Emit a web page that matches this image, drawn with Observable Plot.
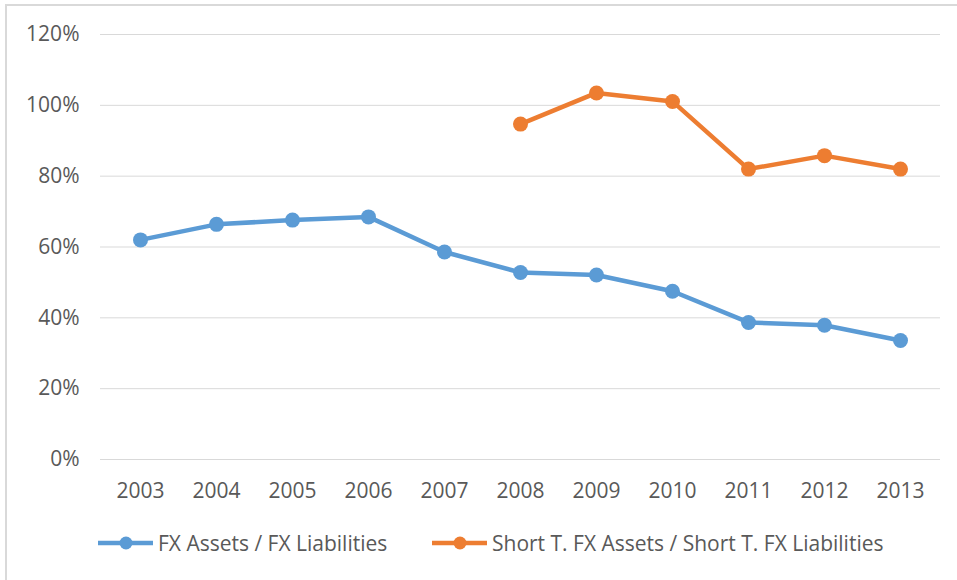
<!DOCTYPE html>
<html>
<head>
<meta charset="utf-8">
<script src="https://cdn.jsdelivr.net/npm/d3@7"></script>
<script src="https://cdn.jsdelivr.net/npm/@observablehq/plot@0.6"></script>
<style>
  html, body { margin: 0; padding: 0; background: #fff; }
  body { font-family: "Open Sans", sans-serif; width: 957px; height: 580px; overflow: hidden; position: relative; }
  #frame { position: absolute; left: 5px; top: 4px; width: 1200px; height: 1200px;
           border-left: 2px solid #d9d9d9; border-top: 2px solid #d9d9d9; pointer-events: none; }
  #chart { position: absolute; left: 0; top: 0; }
  #legend { position: absolute; left: 0; top: 515px; width: 957px; height: 56px; }
  .item { position: absolute; top: 0; height: 56px; display: flex; align-items: center;
          font-size: 21px; color: #595959; white-space: nowrap; }
  .item svg { margin-right: 5px; }
</style>
</head>
<body>
<div id="frame"></div>
<div id="chart"></div>
<div id="legend"></div>
<script>
const years = ["2003","2004","2005","2006","2007","2008","2009","2010","2011","2012","2013"];
const fxRatio = [62.0, 66.4, 67.6, 68.5, 58.6, 52.8, 52.1, 47.5, 38.7, 37.9, 33.6];
const shortYears = ["2008","2009","2010","2011","2012","2013"];
const shortRatio = [94.7, 103.5, 101.1, 82.0, 85.8, 82.0];
const seriesNames = ["FX Assets / FX Liabilities", "Short T. FX Assets / Short T. FX Liabilities"];
const seriesColors = ["#5B9BD5", "#ED7D31"];
const yTicks = [0, 20, 40, 60, 80, 100, 120];

const fxData = years.map((year, i) => ({year, value: fxRatio[i]}));
const shortData = shortYears.map((year, i) => ({year, value: shortRatio[i]}));

const chart = Plot.plot({
  width: 957,
  height: 515,
  marginLeft: 100,
  marginRight: 17,
  marginTop: 34,
  marginBottom: 56,
  style: { fontFamily: "Open Sans, sans-serif", fontSize: "21px", color: "#595959", background: "transparent", overflow: "visible" },
  x: { type: "point", domain: years, padding: 0.5, label: null, tickSize: 0, tickPadding: 24 },
  y: { domain: [0, 120], ticks: yTicks, tickFormat: d => d + "%", label: null, tickSize: 0, tickPadding: 21 },
  marks: [
    Plot.gridY(yTicks, { stroke: "#d9d9d9", strokeOpacity: 1, strokeWidth: 1 }),
    Plot.axisX({ tickSize: 0, tickPadding: 24, label: null, fill: "#595959" }),
    Plot.axisY(yTicks, { tickSize: 0, tickPadding: 21, tickFormat: d => d + "%", label: null, fill: "#595959" }),
    Plot.lineY(fxData, { x: "year", y: "value", stroke: seriesColors[0], strokeWidth: 4.5, strokeLinejoin: "round" }),
    Plot.dot(fxData, { x: "year", y: "value", r: 7.5, fill: seriesColors[0], stroke: "none" }),
    Plot.lineY(shortData, { x: "year", y: "value", stroke: seriesColors[1], strokeWidth: 4.5, strokeLinejoin: "round" }),
    Plot.dot(shortData, { x: "year", y: "value", r: 7.5, fill: seriesColors[1], stroke: "none" })
  ]
});
document.getElementById("chart").appendChild(chart);

const legendLefts = [98, 432];
const legend = document.getElementById("legend");
seriesNames.forEach((name, i) => {
  const item = document.createElement("div");
  item.className = "item";
  item.style.left = legendLefts[i] + "px";
  item.innerHTML =
    `<svg width="55" height="16" viewBox="0 0 55 16">
       <line x1="0" y1="8" x2="55" y2="8" stroke="${seriesColors[i]}" stroke-width="4.5"/>
       <circle cx="28" cy="8" r="6.5" fill="${seriesColors[i]}"/>
     </svg><span>${name}</span>`;
  legend.appendChild(item);
});
</script>
</body>
</html>
